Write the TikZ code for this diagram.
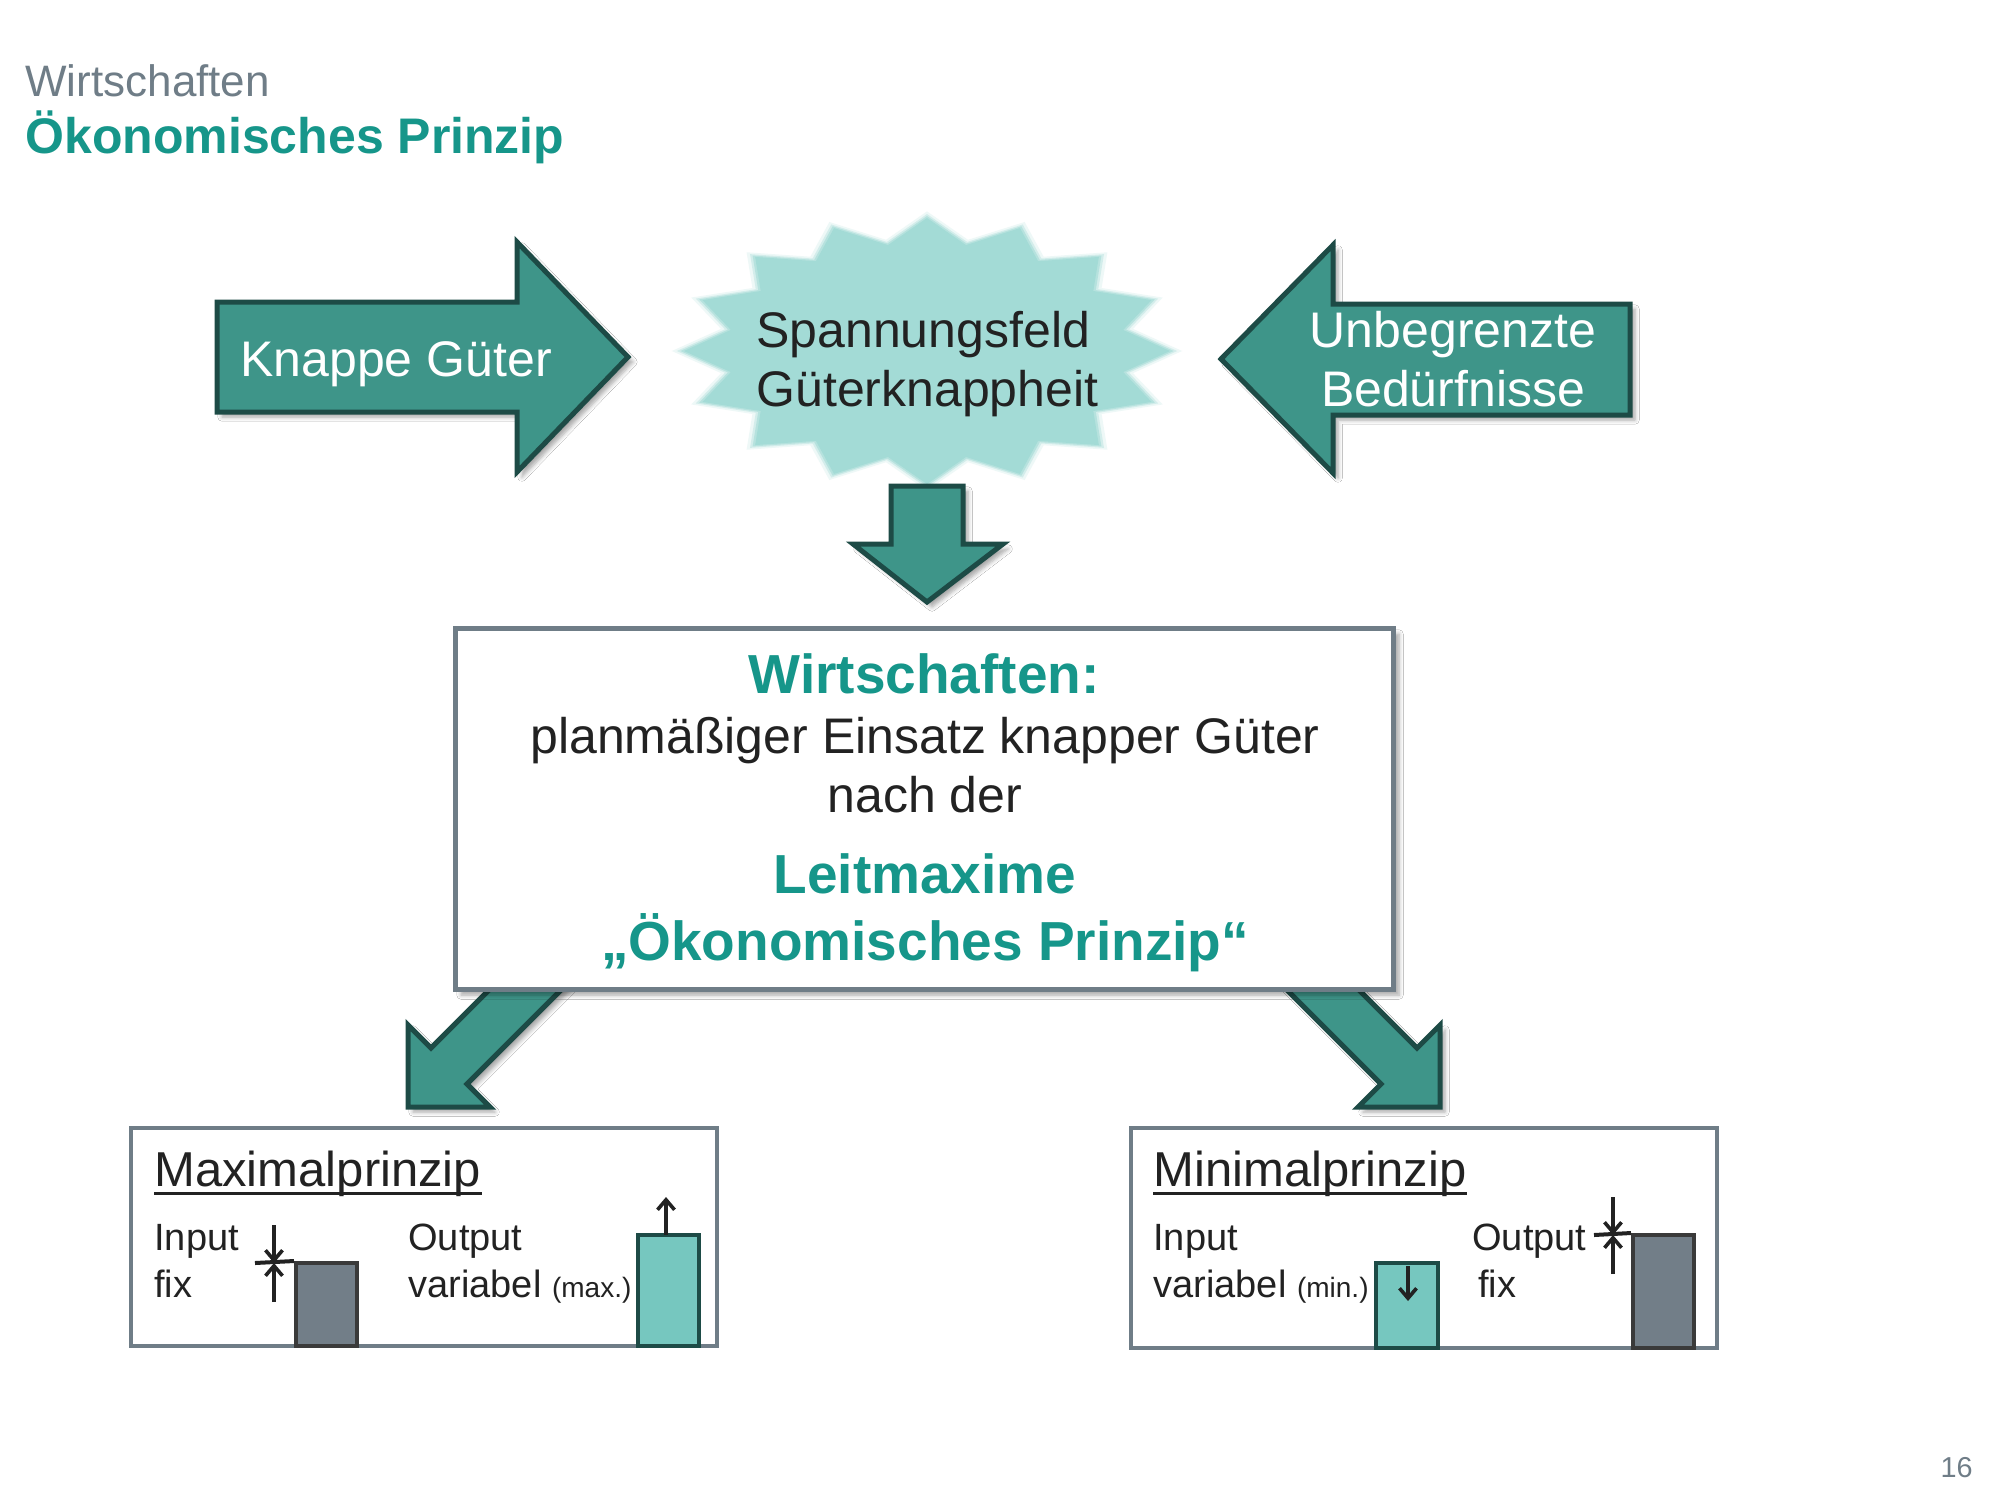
\documentclass[tikz,border=0pt]{standalone}
\usepackage{fontspec}
\setmainfont{Liberation Sans}
\usetikzlibrary{arrows.meta,shadows.blur}
\definecolor{arrfill}{HTML}{3E9589}
\definecolor{arrline}{HTML}{1D4B46}
\definecolor{tealtxt}{HTML}{16968A}
\definecolor{burst}{HTML}{A3DBD6}
\definecolor{grayline}{HTML}{6F7D87}
\definecolor{bargray}{HTML}{727E88}
\definecolor{barline}{HTML}{3A3A3A}
\definecolor{barteal}{HTML}{76C7BF}
\definecolor{txt}{HTML}{222222}
\newcommand\setfs[1]{\fontsize{#1}{#1}\selectfont}
\tikzset{
  lbl/.style={inner sep=0pt, text=txt},
  blockarrow/.style={fill=arrfill, draw=arrline, line width=2.5pt, line join=miter,
    blur shadow={shadow xshift=2.5pt, shadow yshift=-2.5pt, shadow opacity=35, shadow blur steps=5}},
  mainbox/.style={draw=grayline, line width=2.5pt, fill=white, inner sep=0pt,
    blur shadow={shadow xshift=3pt, shadow yshift=-3pt, shadow opacity=35, shadow blur steps=5}},
  smallbox/.style={draw=grayline, line width=2pt, fill=white, inner sep=0pt},
  graybar/.style={draw=barline, fill=bargray, line width=2pt, inner sep=0pt},
  tealbar/.style={draw=arrline, fill=barteal, line width=2pt, inner sep=0pt},
  smallarr/.style={draw=txt, line width=1.8pt, -{Straight Barb[length=5pt,width=8.5pt,line width=1.8pt]}},
  fixline/.style={draw=txt, line width=2pt},
  uline/.style={draw=txt, line width=1.5pt},
}
\begin{document}
\begin{tikzpicture}[x=0.5pt,y=-0.5pt]
\useasboundingbox (0,0) rectangle (2000,1500);
\fill[white] (0,0) rectangle (2000,1500);

% titles
\node[lbl, text=grayline, anchor=base west] (t1) at (25,96) {\setfs{22}Wirtschaften};
\node[lbl, text=tealtxt, anchor=base west] (t2) at (25,153) {\setfs{25}\bfseries Ökonomisches Prinzip};
\node[lbl, text=grayline, anchor=base east] (pg) at (1973,1477) {\setfs{14.4}16};

% starburst with soft edge
\foreach \s/\o in {1.05/0.18,1.03/0.35,1.015/0.6,1/1}{
  \fill[burst, opacity=\o] plot[samples at={0,...,31}, variable=\k]
    ({927+\s*(mod(\k,2)==0?243:200)*cos(\k*11.25)}, {351+\s*(mod(\k,2)==0?133:108)*sin(\k*11.25)}) -- cycle;
}
\node[lbl, anchor=base west] (sp1) at (756,347) {\setfs{25}Spannungsfeld};
\node[lbl, anchor=base west] (sp2) at (756,406) {\setfs{25}Güterknappheit};

% left big arrow
\draw[blockarrow] (217,302) -- (517,302) -- (517,242) -- (628,357) -- (517,472) -- (517,412) -- (217,412) -- cycle;
\node[lbl, text=white, anchor=base west] (kg) at (240,376) {\setfs{25}Knappe Güter};

% right big arrow
\draw[blockarrow] (1630,304) -- (1333,304) -- (1333,245) -- (1221,359) -- (1333,473) -- (1333,415) -- (1630,415) -- cycle;
\node[lbl, text=white, anchor=base] (ub1) at (1453,347) {\setfs{25}Unbegrenzte};
\node[lbl, text=white, anchor=base] (ub2) at (1453,406) {\setfs{25}Bedürfnisse};

% down arrow
\draw[blockarrow] (891,486) -- (963,486) -- (963,544) -- (1003,544) -- (927,602) -- (853,544) -- (891,544) -- cycle;

% diagonal arrows (behind main box)
\draw[blockarrow] (408,1107) -- (408,1025) -- (431,1048) -- (559,920) -- (595,956) -- (467,1084) -- (490,1107) -- cycle;
\draw[blockarrow] (1440,1107) -- (1440,1025) -- (1417,1048) -- (1289,920) -- (1253,956) -- (1381,1084) -- (1358,1107) -- cycle;

% main box
\node[mainbox, minimum width=469pt, minimum height=180.5pt] (box) at (924,808.5) {};
\node[lbl, text=tealtxt, anchor=base] (w1) at (924,693) {\setfs{27.5}\bfseries Wirtschaften:};
\node[lbl, anchor=base] (w2) at (925,753) {\setfs{25}planmäßiger Einsatz knapper Güter};
\node[lbl, anchor=base] (w3) at (925,812) {\setfs{25}nach der};
\node[lbl, text=tealtxt, anchor=base] (w4) at (925,893) {\setfs{27.5}\bfseries Leitmaxime};
\node[lbl, text=tealtxt, anchor=base] (w5) at (925,960) {\setfs{27.5}\bfseries „Ökonomisches Prinzip“};

% left small box
\node[smallbox, minimum width=293pt, minimum height=109pt] (maxbox) at (424,1237) {};
\node[lbl, anchor=base west] (mx) at (154,1186) {\setfs{24.5}Maximalprinzip};
\draw[uline] ([yshift=-3.5pt]mx.base west) -- ([yshift=-3.5pt]mx.base east);
\node[lbl, anchor=base west] (mi1) at (154,1250) {\setfs{19}Input};
\node[lbl, anchor=base west] (mi2) at (154,1297) {\setfs{19}fix};
\node[lbl, anchor=base west] (mo1) at (408,1250) {\setfs{19}Output};
\node[lbl, anchor=base west] (mo2) at (408,1297) {\setfs{19}variabel {\setfs{14}(max.)}};
\node[graybar, minimum width=30.5pt, minimum height=41.5pt] (gbarL) at (326.5,1304.5) {};
\node[tealbar, minimum width=30.5pt, minimum height=55.5pt] (tbarL) at (668.5,1290.5) {};
\coordinate (fixL) at (274,1263);
\draw[fixline] (255,1263) -- (gbarL.north west);
\draw[smallarr] (274,1225) -- (fixL);
\draw[smallarr] (274,1302) -- (fixL);
\coordinate (upL) at (666,1197);
\draw[smallarr] (666,1235) -- (upL);

% right small box
\node[smallbox, minimum width=293pt, minimum height=110pt] (minbox) at (1424,1238) {};
\node[lbl, anchor=base west] (nx) at (1153,1186) {\setfs{24.5}Minimalprinzip};
\draw[uline] ([yshift=-3.5pt]nx.base west) -- ([yshift=-3.5pt]nx.base east);
\node[lbl, anchor=base west] (ni1) at (1153,1250) {\setfs{19}Input};
\node[lbl, anchor=base west] (ni2) at (1153,1297) {\setfs{19}variabel {\setfs{14}(min.)}};
\node[lbl, anchor=base west] (no1) at (1472,1250) {\setfs{19}Output};
\node[lbl, anchor=base west] (no2) at (1478,1297) {\setfs{19}fix};
\node[tealbar, minimum width=31pt, minimum height=42.5pt] (tbarR) at (1407,1305.5) {};
\node[graybar, minimum width=30.5pt, minimum height=56.5pt] (gbarR) at (1663.5,1291.5) {};
\coordinate (dnR) at (1408,1301);
\draw[smallarr] (1408,1266) -- (dnR);
\coordinate (fixR) at (1613,1235);
\draw[fixline] (1594,1235) -- (gbarR.north west);
\draw[smallarr] (1613,1197) -- (fixR);
\draw[smallarr] (1613,1274) -- (fixR);
\end{tikzpicture}
\end{document}
